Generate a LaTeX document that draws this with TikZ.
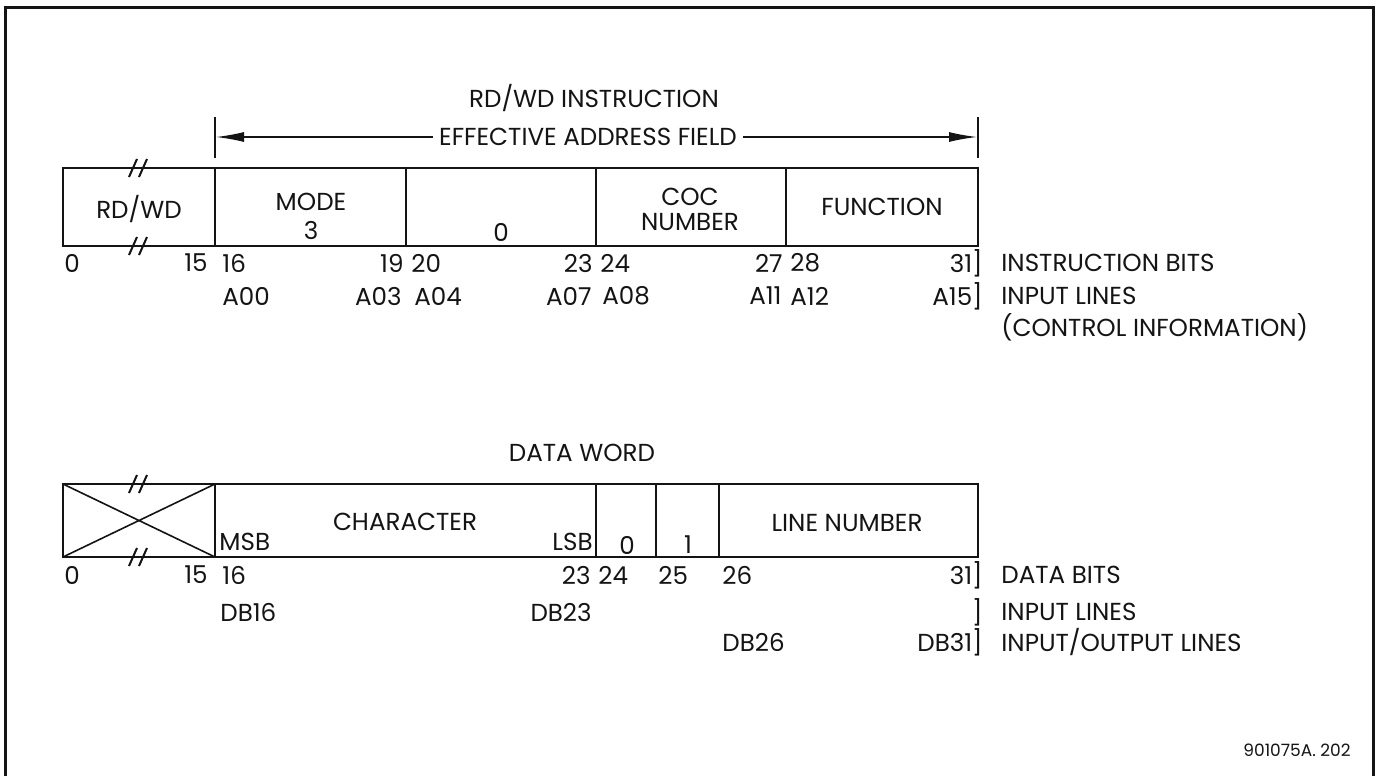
\documentclass[tikz,border=0pt]{standalone}
\usepackage{fontspec}
\setmainfont{Poppins}
\usetikzlibrary{arrows.meta,positioning}
\definecolor{ink}{HTML}{141414}

\tikzset{
  lbl/.style={inner sep=0pt, text=ink, font=\fontsize{12.3}{14}\selectfont},
  wordbox/.style={draw=ink, line width=1.4pt},
  fieldline/.style={draw=ink, line width=1pt},
  brk/.style={draw=ink, line width=1pt},
  eafarrow/.style={draw=ink, line width=0.7pt, -{Latex[length=14pt,width=5pt]}},
}

\begin{document}
\begin{tikzpicture}[x=0.5pt,y=-0.5pt]
  \useasboundingbox (0,0) rectangle (1380,776);
  % frame, open at the bottom
  \draw[ink, line width=1.5pt] (5,776) -- (5,7) -- (1373,7) -- (1373,776);

  % instruction word
  \node[lbl] (insttitle) at (594,98) {RD/WD INSTRUCTION};
  \node[lbl, inner xsep=3pt] (eaf) at (588,137) {EFFECTIVE ADDRESS FIELD};
  \draw[ink, line width=0.8pt] (215,117) -- (215,158);
  \draw[ink, line width=0.8pt] (978,117) -- (978,158);
  \coordinate (eafL) at (216,137);
  \coordinate (eafR) at (977,137);
  \draw[eafarrow] (eaf) -- (eafL);
  \draw[eafarrow] (eaf) -- (eafR);

  \draw[wordbox] (63,168) rectangle (978,246);
  \foreach \x in {215,406,596,786} \draw[fieldline] (\x,168) -- (\x,246);
  \foreach \y in {168,246}
    \draw[brk] (129,\y+9) -- (137,\y-9) (139,\y+9) -- (147,\y-9);

  \node[lbl] (rdwd) at (139,209) {RD/WD};
  \node[lbl] (mode) at (311,202) {MODE};
  \node[lbl] (modeval) at (311,230) {3};
  \node[lbl] (zero) at (501,232) {0};
  \node[lbl] (coc) at (690,197) {COC};
  \node[lbl] (cocnum) at (690,222) {NUMBER};
  \node[lbl] (func) at (882,207) {FUNCTION};

  \foreach \x/\t in {64/0,222/16,411/20,600/24,790/28}
    \node[lbl, anchor=west] (ib\t) at (\x,263) {\t};
  \foreach \x/\t in {208/15,404/19,593/23,783/27}
    \node[lbl, anchor=east] (ib\t) at (\x,263) {\t};
  \node[lbl, anchor=east] (ib31) at (983,263) {31]};
  \node[lbl, anchor=west] (ibits) at (1001,263) {INSTRUCTION BITS};

  \foreach \x/\t in {222/A00,414/A04,602/A08,790/A12}
    \node[lbl, anchor=west] (in\t) at (\x,296) {\t};
  \foreach \x/\t in {402/A03,592/A07,782/A11}
    \node[lbl, anchor=east] (in\t) at (\x,296) {\t};
  \node[lbl, anchor=east] (inA15) at (983,296) {A15]};
  \node[lbl, anchor=west] (inlines) at (1001,296) {INPUT LINES};
  \node[lbl, anchor=west] (ctrl) at (1001,327) {(CONTROL INFORMATION)};

  % data word
  \node[lbl] (datatitle) at (582,453) {DATA WORD};
  \draw[wordbox] (63,484) rectangle (978,557);
  \foreach \x in {215,596,656,719} \draw[fieldline] (\x,484) -- (\x,557);
  \draw[ink, line width=0.8pt] (63,484) -- (215,557) (63,557) -- (215,484);
  \foreach \y in {484,557}
    \draw[brk] (129,\y+9) -- (137,\y-9) (139,\y+9) -- (147,\y-9);

  \node[lbl, anchor=west] (msb) at (219,542) {MSB};
  \node[lbl] (chr) at (405,522) {CHARACTER};
  \node[lbl, anchor=east] (lsb) at (593,542) {LSB};
  \node[lbl] (dzero) at (627,545) {0};
  \node[lbl] (done) at (688,545) {1};
  \node[lbl] (linenum) at (847,523) {LINE NUMBER};

  \foreach \x/\t in {64/0,222/16,598/24,658/25,722/26}
    \node[lbl, anchor=west] (db\t) at (\x,575) {\t};
  \foreach \x/\t in {208/15,591/23}
    \node[lbl, anchor=east] (db\t) at (\x,575) {\t};
  \node[lbl, anchor=east] (db31) at (983,575) {31]};
  \node[lbl, anchor=west] (dbits) at (1001,575) {DATA BITS};

  \node[lbl, anchor=west] (dbsixteen) at (220,612) {DB16};
  \node[lbl, anchor=east] (dbtwothree) at (592,612) {DB23};
  \node[lbl, anchor=east] (inbrk) at (983,612) {]};
  \node[lbl, anchor=west] (dinlines) at (1001,612) {INPUT LINES};

  \node[lbl, anchor=west] (dbtwosix) at (722,642) {DB26};
  \node[lbl, anchor=east] (dbthreeone) at (983,642) {DB31]};
  \node[lbl, anchor=west] (iolines) at (1001,642) {INPUT/OUTPUT LINES};

  \node[lbl, font=\fontsize{8.5}{10}\selectfont] (drawno) at (1297,750) {901075A. 202};
\end{tikzpicture}
\end{document}
